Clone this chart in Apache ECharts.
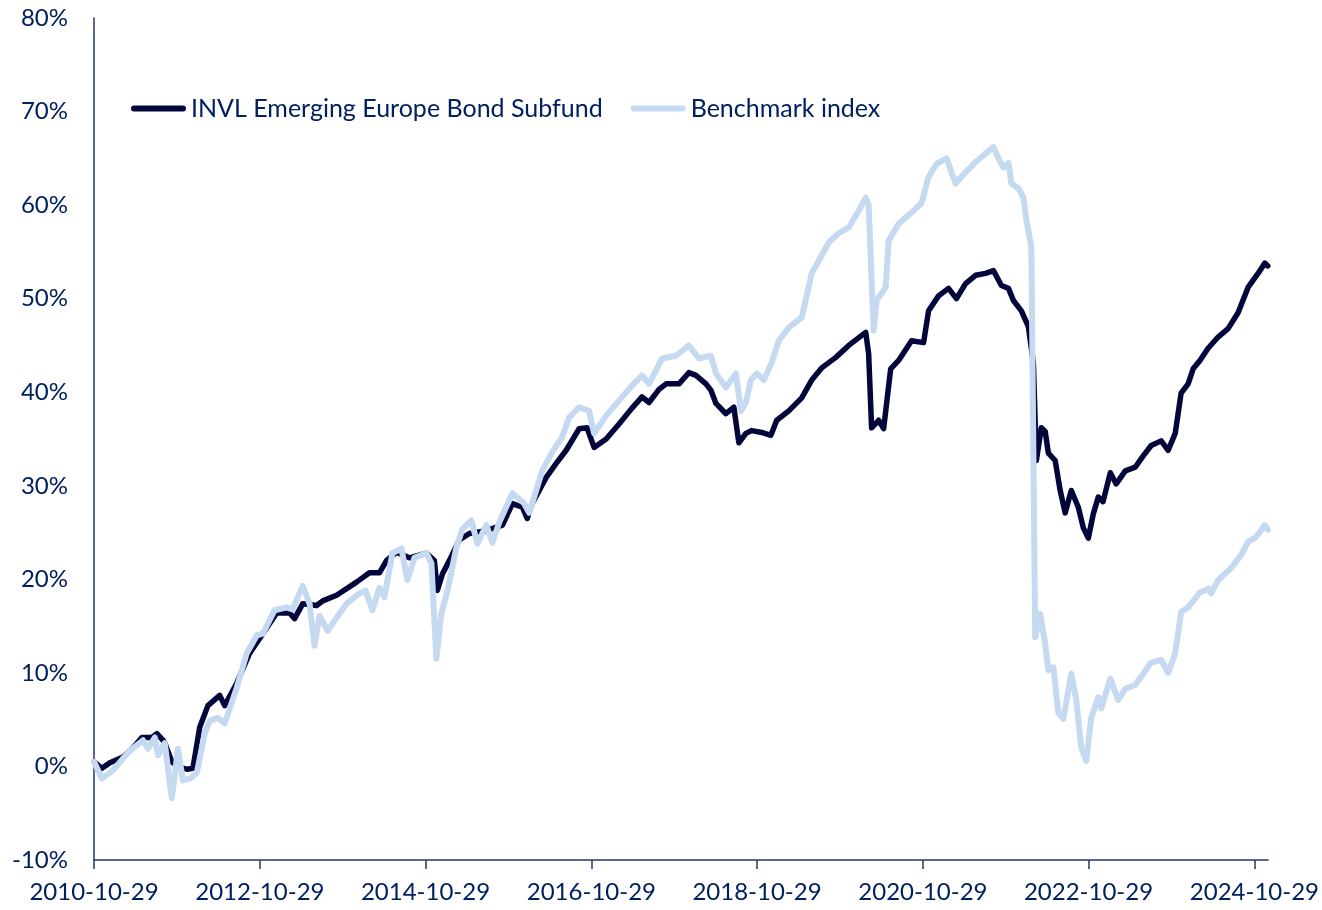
<!DOCTYPE html>
<html>
<head>
<meta charset="utf-8">
<script src="https://cdn.jsdelivr.net/npm/echarts@6/dist/echarts.min.js"></script>
<style>
html,body{margin:0;padding:0;background:#fff;}
#chart{width:1322px;height:910px;}
</style>
</head>
<body>
<div id="chart"></div>
<script>
var seriesNames = ['INVL Emerging Europe Bond Subfund', 'Benchmark index'];
var xTickLabels = ['2010-10-29','2012-10-29','2014-10-29','2016-10-29','2018-10-29','2020-10-29','2022-10-29','2024-10-29'];
var xRange = ['2010-10-29', '2024-12-28'];
var yTicks = [-10, 0, 10, 20, 30, 40, 50, 60, 70, 80];

var fundDates = ['2010-10-29','2010-12-03','2011-01-07','2011-03-06','2011-04-19','2011-05-28','2011-07-11','2011-08-02','2011-08-29','2011-09-06','2011-10-07','2011-11-03','2011-12-12',
'2012-01-08','2012-02-07','2012-03-14','2012-05-05','2012-05-27','2012-07-19','2012-09-14','2012-11-11',
'2013-01-11','2013-03-09','2013-03-31','2013-05-06','2013-07-06','2013-08-02','2013-10-02','2013-12-29',
'2014-02-24','2014-04-09','2014-05-10','2014-06-23','2014-08-19','2014-11-02','2014-12-07','2014-12-20',
'2015-01-12','2015-02-11','2015-03-27','2015-05-10','2015-07-24','2015-10-03','2015-11-16','2015-12-30',
'2016-01-20','2016-02-11','2016-04-13','2016-05-27','2016-07-10','2016-09-05','2016-10-10','2016-11-10',
'2017-01-02','2017-02-28','2017-04-26','2017-06-09','2017-07-10','2017-08-23','2017-09-23','2017-11-19',
'2018-01-02','2018-02-02','2018-03-18','2018-04-09','2018-05-01','2018-06-14','2018-07-19','2018-08-01','2018-08-10','2018-09-10','2018-10-06','2018-11-19','2018-12-29',
'2019-01-24','2019-03-18','2019-05-14','2019-06-27','2019-08-10','2019-10-10','2019-12-07',
'2020-02-20','2020-03-04','2020-03-17','2020-04-17','2020-05-09','2020-06-09','2020-07-14','2020-09-09','2020-11-01','2020-11-23',
'2021-01-06','2021-02-19','2021-03-26','2021-05-05','2021-06-18','2021-08-01','2021-09-05','2021-10-10','2021-11-10','2021-12-02',
'2022-01-06','2022-02-06','2022-02-28','2022-03-13','2022-04-04','2022-04-21','2022-05-05','2022-06-04','2022-06-26','2022-07-18','2022-08-14','2022-09-14','2022-10-06','2022-10-28','2022-11-19','2022-12-11',
'2023-01-01','2023-02-02','2023-02-28','2023-04-09','2023-05-23','2023-06-27','2023-08-01','2023-09-14','2023-10-15','2023-11-15','2023-12-11',
'2024-01-11','2024-02-02','2024-03-03','2024-04-08','2024-05-22','2024-07-05','2024-08-18','2024-10-01','2024-11-14','2024-12-14','2024-12-27'];
var fundValues = [0.5,-0.2,0.4,1.0,2.0,3.1,3.1,3.5,2.8,2.5,0.5,0.0,-0.3,
-0.2,4.2,6.5,7.6,6.5,8.9,12.1,14.2,
16.4,16.4,15.8,17.4,17.2,17.7,18.3,19.7,
20.7,20.7,22.0,22.9,22.3,22.8,22.0,18.8,
20.6,22.0,24.2,24.9,25.2,25.8,28.1,27.7,
26.5,28.1,30.9,32.4,33.8,36.1,36.2,34.1,
35.0,36.6,38.3,39.5,38.9,40.3,40.9,40.9,
42.1,41.8,40.9,40.2,38.8,37.7,38.4,36.1,34.6,35.6,35.9,35.7,35.4,
37.0,38.0,39.4,41.3,42.6,43.7,45.0,
46.4,44.1,36.2,37.0,36.1,42.5,43.4,45.5,45.3,48.7,
50.3,51.1,50.0,51.6,52.5,52.7,53.0,51.4,51.1,49.8,
48.7,47.0,43.1,32.7,36.2,35.8,33.5,32.7,29.5,27.1,29.5,27.7,25.5,24.4,27.0,28.8,
28.3,31.4,30.2,31.6,32.0,33.2,34.3,34.8,33.8,35.6,39.9,
40.9,42.5,43.4,44.7,45.9,46.8,48.5,51.2,52.7,53.8,53.5];

var benchDates = ['2010-10-29','2010-12-03','2011-01-21','2011-04-05','2011-06-02','2011-06-24','2011-07-24','2011-08-07','2011-09-06','2011-10-07','2011-11-03','2011-11-25','2011-12-25',
'2012-01-25','2012-02-29','2012-03-22','2012-04-27','2012-05-27','2012-07-19','2012-09-01','2012-10-15','2012-11-11',
'2013-01-02','2013-02-24','2013-03-22','2013-05-06','2013-06-05','2013-06-27','2013-07-19','2013-08-24','2013-10-02','2013-11-15',
'2014-01-11','2014-02-07','2014-03-09','2014-04-09','2014-05-01','2014-06-05','2014-07-15','2014-08-10','2014-09-10','2014-11-02','2014-11-24','2014-12-16',
'2015-01-07','2015-02-03','2015-03-14','2015-04-10','2015-05-19','2015-06-15','2015-07-24','2015-08-20','2015-09-19','2015-11-16',
'2016-01-07','2016-01-29','2016-02-29','2016-03-26','2016-05-09','2016-06-22','2016-07-23','2016-09-05','2016-10-19','2016-11-10',
'2017-01-02','2017-02-28','2017-04-26','2017-06-09','2017-07-10','2017-09-05','2017-11-06',
'2018-01-02','2018-02-15','2018-04-09','2018-05-01','2018-06-14','2018-07-28','2018-08-19','2018-09-10','2018-10-02','2018-10-28','2018-11-28',
'2019-01-02','2019-02-02','2019-03-18','2019-05-14','2019-06-27','2019-08-05','2019-09-10','2019-10-24','2019-12-07',
'2020-01-20','2020-02-20','2020-03-04','2020-03-26','2020-04-08','2020-05-18','2020-05-31','2020-07-14','2020-09-09','2020-10-23','2020-11-23','2020-12-28',
'2021-02-10','2021-03-22','2021-05-05','2021-06-18','2021-08-01','2021-09-05','2021-09-27','2021-10-19','2021-11-10','2021-11-23','2021-12-24',
'2022-01-15','2022-01-28','2022-02-19','2022-03-08','2022-03-30','2022-04-21','2022-05-05','2022-05-27','2022-06-18','2022-07-10','2022-08-14','2022-09-05','2022-09-27','2022-10-19','2022-11-10','2022-12-11','2022-12-24',
'2023-02-02','2023-03-09','2023-04-09','2023-05-23','2023-06-27','2023-08-01','2023-09-14','2023-10-15','2023-11-15','2023-12-11',
'2024-01-11','2024-03-03','2024-04-08','2024-04-21','2024-05-22','2024-07-18','2024-08-31','2024-10-01','2024-11-05','2024-12-14','2024-12-27'];
var benchValues = [0.5,-1.3,-0.4,1.7,2.8,1.9,3.1,1.2,2.5,-3.4,1.9,-1.5,-1.3,
-0.7,3.5,4.9,5.2,4.6,8.4,12.1,14.0,14.2,
16.7,17.0,16.8,19.3,17.4,12.9,16.1,14.5,15.9,17.4,
18.5,18.8,16.7,19.1,18.1,22.8,23.3,19.9,22.3,22.8,21.7,11.5,
16.4,18.8,23.4,25.4,26.3,23.8,25.8,23.9,26.1,29.2,
28.1,27.1,29.5,31.6,33.6,35.2,37.3,38.4,38.0,35.6,
37.5,39.1,40.7,41.8,40.9,43.6,43.9,
45.0,43.6,43.9,42.0,40.5,42.0,38.0,38.9,41.3,42.0,41.3,
43.2,45.5,46.9,48.0,52.7,54.4,56.0,57.0,57.6,
59.4,60.8,60.0,46.6,49.8,51.2,56.2,58.0,59.2,60.2,63.0,64.4,
65.0,62.3,63.5,64.6,65.5,66.2,65.0,64.0,64.5,62.3,61.8,
60.8,58.4,55.5,13.8,16.3,13.1,10.3,10.6,5.7,5.1,9.9,7.1,2.0,0.6,5.2,7.4,6.2,
9.4,7.1,8.3,8.7,9.9,11.1,11.4,10.0,12.1,16.5,
17.0,18.6,19.0,18.5,19.9,21.2,22.6,24.0,24.5,25.8,25.3];

function toTime(s) {
  var p = s.split('-');
  return Date.UTC(+p[0], +p[1] - 1, +p[2]);
}
function pairs(dates, vals) {
  return dates.map(function (d, i) { return [toTime(d), vals[i]]; });
}

var textColor = '#002060';
var axisColor = '#1f3864';
var fontFamily = 'Lato';
var tickTimes = xTickLabels.map(toTime);

var chart = echarts.init(document.getElementById('chart'), null, { renderer: 'canvas' });
chart.setOption({
  animation: false,
  backgroundColor: '#ffffff',
  textStyle: { fontFamily: fontFamily },
  grid: { left: 94, right: 52, top: 18, bottom: 50, containLabel: false },
  legend: {
    left: 126,
    top: 91,
    itemWidth: 55,
    itemHeight: 6,
    itemGap: 28,
    icon: 'path://M3,0 L52,0 A3,3 0 0 1 52,6 L3,6 A3,3 0 0 1 3,0 Z',
    textStyle: { color: textColor, fontSize: 25, fontFamily: fontFamily },
    data: seriesNames
  },
  xAxis: {
    type: 'value',
    min: toTime(xRange[0]),
    max: toTime(xRange[1]),
    axisLine: { show: true, onZero: false, lineStyle: { color: axisColor, width: 1.5 } },
    axisTick: { show: true, length: 9, inside: false, customValues: tickTimes, lineStyle: { color: axisColor, width: 1.5 } },
    axisLabel: {
      customValues: tickTimes,
      color: textColor, fontSize: 24, fontFamily: fontFamily, margin: 20,
      formatter: function (v) {
        var i = tickTimes.indexOf(v);
        return i >= 0 ? xTickLabels[i] : '';
      },
      showMinLabel: true, showMaxLabel: true, hideOverlap: false
    },
    splitLine: { show: false },
    minorTick: { show: false }
  },
  yAxis: {
    type: 'value',
    min: yTicks[0],
    max: yTicks[yTicks.length - 1],
    interval: 10,
    axisLine: { show: true, onZero: false, lineStyle: { color: axisColor, width: 1.5 } },
    axisTick: { show: false },
    axisLabel: { color: textColor, fontSize: 24, fontFamily: fontFamily, margin: 26, formatter: '{value}%' },
    splitLine: { show: false }
  },
  series: [
    {
      name: seriesNames[0],
      type: 'line',
      data: pairs(fundDates, fundValues),
      showSymbol: false,
      symbol: 'none',
      color: '#03063a',
      lineStyle: { color: '#03063a', width: 5.5, cap: 'round', join: 'round' },
      z: 2
    },
    {
      name: seriesNames[1],
      type: 'line',
      data: pairs(benchDates, benchValues),
      showSymbol: false,
      symbol: 'none',
      color: '#c5d9f1',
      lineStyle: { color: '#c5d9f1', width: 6, cap: 'round', join: 'round' },
      z: 3
    }
  ]
});
</script>
</body>
</html>
